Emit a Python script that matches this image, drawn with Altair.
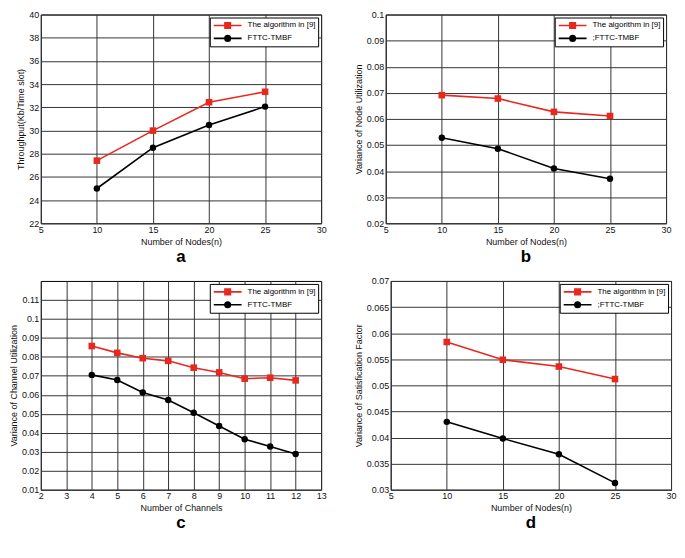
import altair as alt
import pandas as pd

NAMES = ["The algorithm in [9]", "FTTC-TMBF"]
NAMES_B = ["The algorithm in [9]", ";FTTC-TMBF"]

nodes = [10, 15, 20, 25]
channels = [4, 5, 6, 7, 8, 9, 10, 11, 12]

a_red = [27.40, 29.99, 32.44, 33.34]
a_black = [25.00, 28.52, 30.48, 32.06]

b_red = [0.0691, 0.0678, 0.0627, 0.0611]
b_black = [0.0528, 0.0486, 0.0410, 0.0371]

c_red = [0.0857, 0.0821, 0.0793, 0.0779, 0.0743, 0.0718, 0.0685, 0.0690, 0.0676]
c_black = [0.0705, 0.0678, 0.0612, 0.0573, 0.0505, 0.0436, 0.0366, 0.0328, 0.0288]

d_red = [0.0583, 0.0549, 0.0536, 0.0512]
d_black = [0.0430, 0.0398, 0.0368, 0.0313]

x_ticks_nodes = [5, 10, 15, 20, 25, 30]
x_ticks_channels = [2, 3, 4, 5, 6, 7, 8, 9, 10, 11, 12, 13]
a_yticks = [22, 24, 26, 28, 30, 32, 34, 36, 38, 40]
b_yticks = [0.02, 0.03, 0.04, 0.05, 0.06, 0.07, 0.08, 0.09, 0.1]
c_yticks = [0.01, 0.02, 0.03, 0.04, 0.05, 0.06, 0.07, 0.08, 0.09, 0.1, 0.11]
d_yticks = [0.03, 0.035, 0.04, 0.045, 0.05, 0.055, 0.06, 0.065, 0.07]

RED = "#e8281e"
BLACK = "#000000"
FONT = "Liberation Sans"
W, H = 282, 210

# legend symbol: a line with the marker on it
SQ_PATH = "M-2.8,0H2.8M-0.55,-0.55H0.55V0.55H-0.55Z"
CI_PATH = "M-2.8,0H2.8M0.55,0A0.55,0.55 0 1,1 -0.55,0A0.55,0.55 0 1,1 0.55,0Z"

INDEP = dict(fill="independent", stroke="independent",
             shape="independent", x="independent", y="independent")
INDEP_LEG = dict(fill="independent", stroke="independent", shape="independent")


def panel(x, red, black, names, xdom, xvals, ydom, yvals, xtitle, ytitle, letter):
    n = len(x)
    df = pd.DataFrame({
        "x": list(x) + list(x),
        "y": list(red) + list(black),
        "series": [names[0]] * n + [names[1]] * n,
    })
    cscale = alt.Scale(domain=names, range=[RED, BLACK])
    xenc = alt.X("x:Q", scale=alt.Scale(domain=xdom, nice=False, zero=False),
                 axis=alt.Axis(values=xvals, title=xtitle, labelFlush=False,
                               labelOverlap=False, titlePadding=3))
    yenc = alt.Y("y:Q", scale=alt.Scale(domain=ydom, nice=False, zero=False),
                 axis=alt.Axis(values=yvals, title=ytitle, format="~g",
                               labelFlush=False, labelOverlap=False, titlePadding=3))
    base = alt.Chart(df)
    red_df = base.transform_filter(alt.datum.series == names[0])
    blk_df = base.transform_filter(alt.datum.series == names[1])
    line_r = red_df.mark_line(strokeWidth=1.6, color=RED).encode(x=xenc, y=yenc)
    line_b = blk_df.mark_line(strokeWidth=1.6, color=BLACK).encode(x=xenc, y=yenc)
    sq = red_df.mark_square(size=44, opacity=1, color=RED).encode(x=xenc, y=yenc)
    ci = blk_df.mark_circle(size=42, opacity=1, color=BLACK).encode(x=xenc, y=yenc)
    leg = alt.Legend(
        title=None, orient="top-right", offset=3,
        fillColor="white", strokeColor="black", padding=2,
        labelFont=FONT, labelFontSize=8, labelColor="black",
        symbolSize=100, symbolStrokeWidth=1.6, symbolOffset=10, labelOffset=14,
        rowPadding=1, symbolOpacity=1,
    )
    legend_layer = base.transform_filter("false").mark_point(filled=True, opacity=1).encode(
        x=xenc, y=yenc,
        fill=alt.Fill("series:N", scale=cscale, legend=leg),
        stroke=alt.Stroke("series:N", scale=cscale, legend=leg),
        shape=alt.Shape("series:N", scale=alt.Scale(domain=names, range=[SQ_PATH, CI_PATH]),
                        legend=leg),
    )
    return alt.layer(line_r, line_b, sq, ci, legend_layer).properties(
        width=W, height=H,
        title=alt.TitleParams(letter, orient="bottom", fontSize=17, fontWeight="bold",
                              font=FONT, offset=3, color="black"),
    )


pa = panel(nodes, a_red, a_black, NAMES, [5, 30], x_ticks_nodes, [22, 40], a_yticks,
           "Number of Nodes(n)", "Throughput(Kb/Time slot)", "a")
pb = panel(nodes, b_red, b_black, NAMES_B, [5, 30], x_ticks_nodes, [0.02, 0.1], b_yticks,
           "Number of Nodes(n)", "Variance of Node Utilization", "b")
pc = panel(channels, c_red, c_black, NAMES, [2, 13], x_ticks_channels, [0.01, 0.12], c_yticks,
           "Number of Channels", "Variance of Channel Utilization", "c")
pd_ = panel(nodes, d_red, d_black, NAMES_B, [5, 30], x_ticks_nodes, [0.03, 0.07], d_yticks,
            "Number of Nodes(n)", "Variance of Satisfication Factor", "d")

row1 = alt.hconcat(pa, pb, spacing=26).resolve_scale(**INDEP).resolve_legend(**INDEP_LEG)
row2 = alt.hconcat(pc, pd_, spacing=26).resolve_scale(**INDEP).resolve_legend(**INDEP_LEG)

chart = alt.vconcat(row1, row2, spacing=10).resolve_scale(**INDEP).resolve_legend(
    **INDEP_LEG
).properties(padding=0, background="white").configure_view(
    stroke="black", strokeWidth=1
).configure_axis(
    grid=True, gridColor="#333333", gridWidth=1, gridOpacity=1,
    domain=False, ticks=False, tickSize=0,
    labelFont=FONT, labelFontSize=9, labelColor="#111111", labelPadding=2,
    titleFont=FONT, titleFontSize=9, titleFontWeight="normal", titleColor="#111111",
)

chart.save("out.html", embed_options={"renderer": "svg", "actions": False})
